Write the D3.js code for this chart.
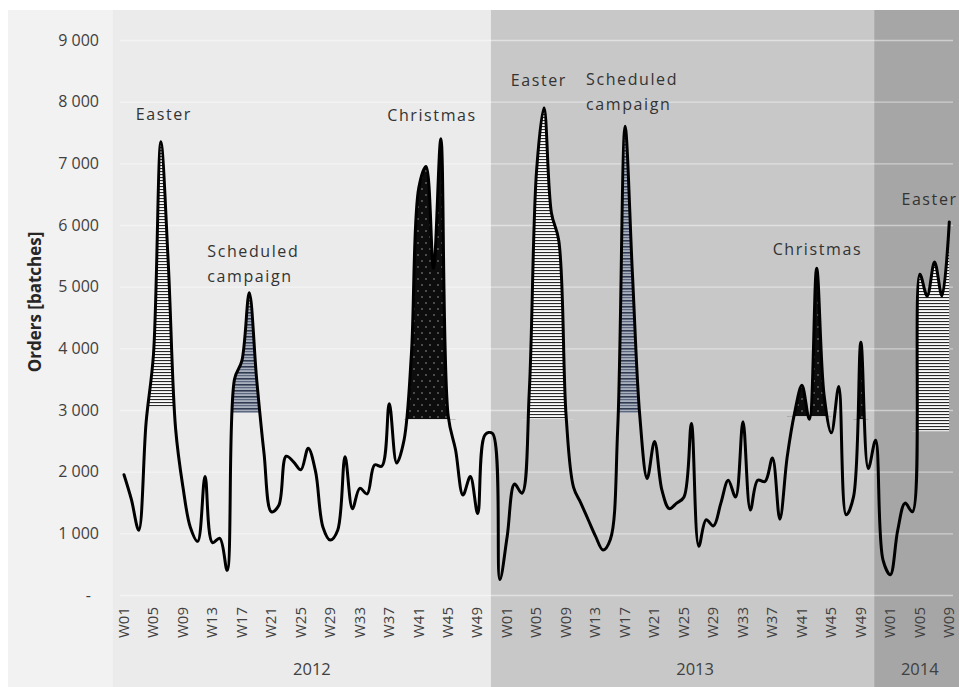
<!DOCTYPE html>
<html><head><meta charset="utf-8">
<script src="https://cdn.jsdelivr.net/npm/d3@7"></script>
<style>
html,body{margin:0;padding:0;background:#fff;}
svg{display:block;}
</style></head><body>
<svg id="chart" width="959" height="687"></svg>
<script>
// ---------------- DATA ----------------
const years = ["2012", "2013", "2014"];
const weeksPerYear = [52, 52, 9];
const orders2012 = [1950,1550,1050,2800,3900,7350,5400,2700,1750,1100,
                    870,1920,850,920,400,3500,3800,4900,3500,2300,
                    1350,1450,2250,2160,2030,2380,2000,1100,890,1050,
                    2240,1400,1730,1640,2110,2090,3100,2140,2510,3900,
                    6600,6950,5300,7400,2900,2350,1620,1920,1320,2600,
                    2620,250];
const orders2013 = [950,1800,1650,3300,6900,7900,6200,5750,2900,1750,
                    1490,1220,950,730,900,2700,7600,5200,2900,1890,
                    2490,1700,1400,1490,1590,2780,790,1220,1120,1490,
                    1860,1590,2810,1380,1860,1840,2220,1230,2240,2950,
                    3400,2850,5300,3250,2630,3380,1300,1590,4100,2050,
                    2510,570];
const orders2014 = [330,1050,1490,1350,5200,4850,5400,4850,6050];
const yTickValues = [0,1000,2000,3000,4000,5000,6000,7000,8000,9000];
const labelEvery = 4;
// highlighted events: category range (inclusive), baseline value, pattern
const eventFrom    = ["2012-W04","2012-W15","2012-W39","2013-W03","2013-W15","2013-W39","2013-W48","2014-W04"];
const eventTo      = ["2012-W08","2012-W20","2012-W46","2013-W10","2013-W20","2013-W45","2013-W50","2014-W09"];
const eventBase    = [3050, 2950, 2850, 2850, 2950, 2900, 2850, 2650];
const eventPattern = ["easter","campaign","xmas","easter","campaign","xmas","xmas","easter"];
// annotations: text lines, anchored at (category position, order value)
const annText   = [["Easter"],["Scheduled","campaign"],["Christmas"],["Easter"],["Scheduled","campaign"],["Christmas"],["Easter"]];
const annPos    = [5.4, 11.3, 41.8, 56.3, 62.7, 94.1, 105.5];
const annValue  = [7700, 5480, 7680, 8250, 8270, 5520, 6330];
const annAnchor = ["middle","start","middle","middle","start","middle","start"];

// ---------------- BUILD ----------------
const cats = [];
years.forEach((yr, k) => {
  for (let w = 1; w <= weeksPerYear[k]; w++) {
    cats.push({year: yr, week: "W" + String(w).padStart(2, "0"), key: yr + "-W" + String(w).padStart(2, "0")});
  }
});
const values = orders2012.concat(orders2013, orders2014);
const data = cats.map((c, i) => ({i, v: values[i], c}));
const keyIndex = new Map(cats.map((c, i) => [c.key, i]));

const W = 959, H = 687;
const plotLeft = 120, plotRight = 953;
const x = d3.scaleLinear().domain([0, cats.length - 1]).range([124, 949.3]);
const y = d3.scaleLinear().domain([0, 9000]).range([595, 40]);

const svg = d3.select("#chart");
const defs = svg.append("defs");

// patterns
const pe = defs.append("pattern").attr("id", "easter").attr("patternUnits", "userSpaceOnUse")
  .attr("width", 8).attr("height", 3);
pe.append("rect").attr("width", 8).attr("height", 3).attr("fill", "#fafafa");
pe.append("rect").attr("y", 0).attr("width", 8).attr("height", 1.1).attr("fill", "#2a2a2a");

const pc = defs.append("pattern").attr("id", "campaign").attr("patternUnits", "userSpaceOnUse")
  .attr("width", 8).attr("height", 6);
pc.append("rect").attr("width", 8).attr("height", 6).attr("fill", "#a9b0bd");
pc.append("rect").attr("y", 0).attr("width", 8).attr("height", 1.6).attr("fill", "#2f3a50");
pc.append("rect").attr("y", 3).attr("width", 8).attr("height", 1.2).attr("fill", "#5d6880");

const px = defs.append("pattern").attr("id", "xmas").attr("patternUnits", "userSpaceOnUse")
  .attr("width", 8).attr("height", 12);
px.append("rect").attr("width", 8).attr("height", 12).attr("fill", "#0d0d0d");
px.append("circle").attr("cx", 2).attr("cy", 3).attr("r", 0.8).attr("fill", "#9a9a9a");
px.append("circle").attr("cx", 6).attr("cy", 9).attr("r", 0.8).attr("fill", "#9a9a9a");

// background panels
svg.append("rect").attr("x", 8).attr("y", 10).attr("width", 105).attr("height", H - 10).attr("fill", "#f2f2f2");
const panelEdges = [-1.5, 49.8, 101.8, 113.5];
const panelColors = ["#ebebeb", "#c8c8c8", "#a6a6a6"];
years.forEach((yr, k) => {
  svg.append("rect")
    .attr("x", x(panelEdges[k])).attr("y", 10)
    .attr("width", x(panelEdges[k + 1]) - x(panelEdges[k])).attr("height", H - 10)
    .attr("fill", panelColors[k]);
});

// y axis with gridlines
const fmtLocale = d3.formatLocale({decimal: ",", thousands: " ", grouping: [3], currency: ["", ""]});
const fmt = fmtLocale.format(",");
const yAxis = d3.axisLeft(y).tickValues(yTickValues)
  .tickSize(-(plotRight - plotLeft)).tickPadding(21)
  .tickFormat(v => v === 0 ? "-" : fmt(v));
const gy = svg.append("g").attr("transform", `translate(${plotLeft},0)`).call(yAxis);
gy.select(".domain").remove();
gy.selectAll(".tick line").attr("stroke", "#ffffff").attr("stroke-opacity", 0.45).attr("stroke-width", 1.4);
gy.selectAll(".tick text")
  .attr("font-family", "'Open Sans', sans-serif").attr("font-size", 16).attr("fill", "#404040")
  .attr("dx", v => v === 0 ? -8 : 0);

// y title
svg.append("text")
  .attr("transform", `translate(41,302) rotate(-90)`)
  .attr("text-anchor", "middle")
  .attr("font-family", "'Open Sans', sans-serif").attr("font-weight", "bold")
  .attr("font-size", 17).attr("fill", "#262626")
  .text("Orders [batches]");

// x axis
const tickIdx = data.filter(d => (parseInt(d.c.week.slice(1)) - 1) % labelEvery === 0).map(d => d.i);
const xAxis = d3.axisBottom(x).tickValues(tickIdx).tickSize(0).tickFormat(i => cats[i].week);
const gx = svg.append("g").attr("transform", `translate(0,${y(0)})`).call(xAxis);
gx.select(".domain").remove();
gx.selectAll(".tick text")
  .attr("transform", "rotate(-90)")
  .attr("text-anchor", "end")
  .attr("x", -12).attr("y", -1).attr("dy", "0.35em")
  .attr("font-family", "'Open Sans', sans-serif").attr("font-size", 15).attr("fill", "#404040");

// year labels
years.forEach(yr => {
  const idx = data.filter(d => d.c.year === yr).map(d => d.i);
  svg.append("text")
    .attr("x", x((idx[0] + idx[idx.length - 1]) / 2)).attr("y", 675)
    .attr("text-anchor", "middle")
    .attr("font-family", "'Open Sans', sans-serif").attr("font-size", 16.5).attr("fill", "#404040")
    .text(yr);
});

// event fills
const curve = d3.curveCatmullRom.alpha(0.5);
eventFrom.forEach((f, k) => {
  const a = keyIndex.get(f), b = keyIndex.get(eventTo[k]);
  const base = eventBase[k];
  const cid = "clip" + k;
  defs.append("clipPath").attr("id", cid).append("rect")
    .attr("x", x(a)).attr("y", 0).attr("width", x(b) - x(a)).attr("height", y(base));
  const sub = data.slice(Math.max(0, a - 1), Math.min(data.length, b + 2));
  const area = d3.area().x(d => x(d.i)).y0(y(base)).y1(d => y(d.v)).curve(curve);
  svg.append("path").attr("d", area(sub))
    .attr("fill", `url(#${eventPattern[k]})`)
    .attr("clip-path", `url(#${cid})`);
});

// main line
const line = d3.line().x(d => x(d.i)).y(d => y(d.v)).curve(curve);
svg.append("path").attr("d", line(data))
  .attr("fill", "none").attr("stroke", "#000").attr("stroke-width", 3)
  .attr("stroke-linejoin", "round").attr("stroke-linecap", "round");

// annotations
annText.forEach((lines, k) => {
  const t = svg.append("text")
    .attr("x", x(annPos[k])).attr("y", y(annValue[k]))
    .attr("text-anchor", annAnchor[k])
    .attr("font-family", "'Open Sans', sans-serif").attr("font-size", 16)
    .attr("letter-spacing", "1.6px").attr("fill", "#333");
  lines.forEach((ln, j) => {
    t.append("tspan").attr("x", x(annPos[k])).attr("dy", j === 0 ? 0 : 25).text(ln);
  });
});
</script>
</body></html>
